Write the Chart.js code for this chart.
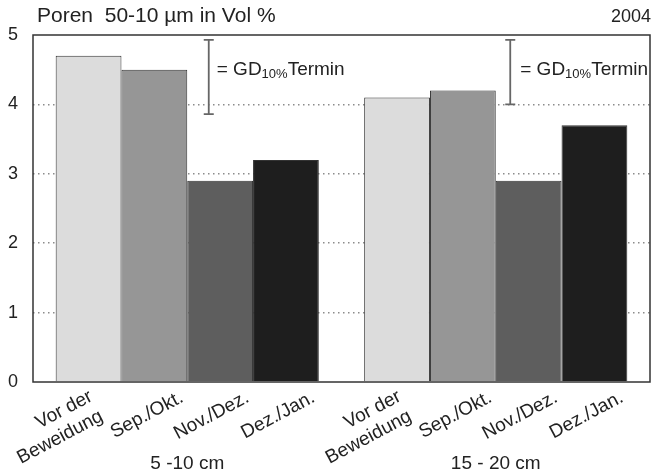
<!DOCTYPE html>
<html>
<head>
<meta charset="utf-8">
<script src="https://cdn.jsdelivr.net/npm/chart.js@4/dist/chart.umd.min.js"></script>
<style>
  html, body { margin: 0; padding: 0; background: #fff; }
  #wrap { width: 654px; height: 474px; }
</style>
</head>
<body>
<div id="wrap"><canvas id="poren"></canvas></div>
<script>
// Tiefenstufen (x-Achse)
var tiefen = ['5 -10 cm', '15 - 20 cm'];
// Termine (eine Säule je Termin und Tiefe)
var termine = [['Vor der', 'Beweidung'], 'Sep./Okt.', 'Nov./Dez.', 'Dez./Jan.'];
// Porenanteil 50-10 µm in Vol %
var vorDerBeweidung = [4.7, 4.1];
var sepOkt = [4.5, 4.2];
var novDez = [2.9, 2.9];
var dezJan = [3.2, 3.7];
// GD 10% Termin (Grenzdifferenz), oberes und unteres Ende
var gdOben = [4.93, 4.93];
var gdUnten = [3.86, 4.0];
// y-Achse
var yTicks = [0, 1, 2, 3, 4, 5];

var schrift = "'Liberation Sans', Arial, sans-serif";
var farben = ['#dcdcdc', '#969696', '#5e5e5e', '#1e1e1e'];
var werte = [vorDerBeweidung, sepOkt, novDez, dezJan];

var datasets = [];
for (var i = 0; i < werte.length; i++) {
  datasets.push({
    label: [].concat(termine[i]).join(' '),
    data: werte[i],
    backgroundColor: farben[i],
    borderColor: '#333',
    borderWidth: 1,
    categoryPercentage: 0.853,
    barPercentage: 1.0
  });
}

// Rahmen, GD-Balken, schräge Terminbeschriftung, Titel
var deko = {
  id: 'deko',
  beforeDraw: function (chart) {
    var ctx = chart.ctx;
    ctx.save();
    ctx.fillStyle = '#fff';
    ctx.fillRect(0, 0, chart.width, chart.height);
    ctx.restore();
  },
  afterDatasetsDraw: function (chart) {
    var ctx = chart.ctx;
    var a = chart.chartArea;
    var x = chart.scales.x, y = chart.scales.y;
    ctx.save();

    // Rahmen
    ctx.strokeStyle = '#333';
    ctx.lineWidth = 1.5;
    ctx.strokeRect(a.left, a.top, a.right - a.left, a.bottom - a.top);

    // GD-Balken mit Beschriftung
    var versatz = [21.5, 14.5];
    var abstand = [8, 10];
    for (var g = 0; g < tiefen.length; g++) {
      var ex = x.getPixelForValue(g) + versatz[g];
      var y1 = y.getPixelForValue(gdOben[g]);
      var y2 = y.getPixelForValue(gdUnten[g]);
      ctx.strokeStyle = '#666';
      ctx.lineWidth = 1.8;
      ctx.beginPath();
      ctx.moveTo(ex, y1); ctx.lineTo(ex, y2);
      ctx.moveTo(ex - 5, y1); ctx.lineTo(ex + 5, y1);
      ctx.moveTo(ex - 5, y2); ctx.lineTo(ex + 5, y2);
      ctx.stroke();

      var tx = ex + abstand[g], ty = 75;
      ctx.fillStyle = '#222';
      ctx.textAlign = 'left';
      ctx.textBaseline = 'alphabetic';
      ctx.font = '19px ' + schrift;
      ctx.fillText('= GD', tx, ty);
      tx += ctx.measureText('= GD').width;
      ctx.font = '13px ' + schrift;
      ctx.fillText('10%', tx, ty + 3);
      tx += ctx.measureText('10%').width;
      ctx.font = '19px ' + schrift;
      ctx.fillText('Termin', tx, ty);
    }

    // schräge Terminbeschriftung unter jeder Säule
    ctx.font = '19px ' + schrift;
    ctx.fillStyle = '#222';
    ctx.textAlign = 'right';
    ctx.textBaseline = 'alphabetic';
    for (var d = 0; d < chart.data.datasets.length; d++) {
      var meta = chart.getDatasetMeta(d);
      var zeilen = [].concat(termine[d]);
      for (var k = 0; k < meta.data.length; k++) {
        var cx = meta.data[k].x;
        var ax = zeilen.length > 1 ? cx + 5 : cx + 30;
        var ay = zeilen.length > 1 ? 400 : 401;
        ctx.save();
        ctx.translate(ax, ay);
        ctx.rotate(-28 * Math.PI / 180);
        for (var z = 0; z < zeilen.length; z++) {
          ctx.fillText(zeilen[z], 0, z * 22.5);
        }
        ctx.restore();
      }
    }
    ctx.restore();
  },
  afterDraw: function (chart) {
    var ctx = chart.ctx;
    ctx.save();
    ctx.fillStyle = '#222';
    ctx.textBaseline = 'alphabetic';
    ctx.font = '21px ' + schrift;
    ctx.textAlign = 'left';
    ctx.fillText('Poren  50-10 µm in Vol %', 37, 22);
    ctx.font = '18px ' + schrift;
    ctx.textAlign = 'right';
    ctx.fillText('2004', 651, 22);
    ctx.restore();
  }
};

var ctx1 = document.getElementById('poren');
var porenChart = new Chart(ctx1, {
  type: 'bar',
  data: {
    labels: tiefen,
    datasets: datasets
  },
  options: {
    responsive: true,
    maintainAspectRatio: false,
    animation: false,
    layout: { padding: { top: 35, right: 4, left: 0, bottom: 0 } },
    plugins: {
      legend: { display: false },
      tooltip: { enabled: false }
    },
    scales: {
      x: {
        grid: { display: false, drawTicks: false },
        border: { display: false },
        ticks: {
          color: '#222',
          font: { family: schrift, size: 19 },
          padding: 70
        },
        afterFit: function (scale) { scale.height = 92; }
      },
      y: {
        min: 0,
        max: 5,
        afterBuildTicks: function (scale) {
          scale.ticks = yTicks.map(function (v) { return { value: v }; });
        },
        grid: {
          drawTicks: false,
          lineWidth: 1.5,
          color: function (c) {
            return (c.tick && (c.tick.value === 0 || c.tick.value === 5)) ? 'rgba(0,0,0,0)' : '#8c8c8c';
          }
        },
        border: { display: false, dash: [1.5, 3.5] },
        ticks: {
          color: '#222',
          font: { family: schrift, size: 18 },
          padding: 15
        },
        afterFit: function (scale) { scale.width = 33; }
      }
    }
  },
  plugins: [deko]
});
</script>
</body>
</html>
